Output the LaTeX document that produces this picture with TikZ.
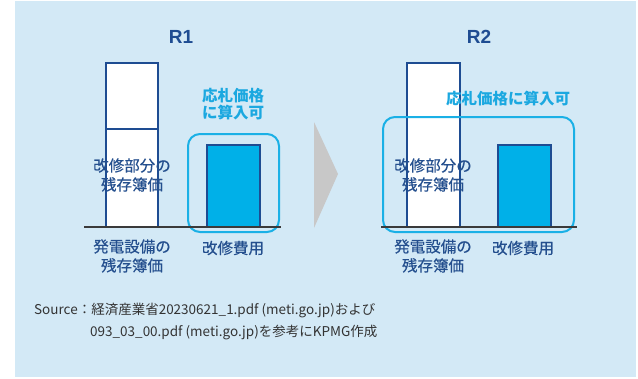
\documentclass[tikz,border=0pt]{standalone}
\usepackage{fontspec}
\setmainfont{Noto Sans CJK JP}
\newfontfamily\medfont[FakeBold=0.35]{Noto Sans CJK JP}
\newfontfamily\latinbold{Liberation Sans}
\definecolor{bg}{HTML}{D3E9F6}
\definecolor{navy}{HTML}{1E4C92}
\definecolor{txtblue}{HTML}{244F8E}
\definecolor{cyanbar}{HTML}{00B0E8}
\definecolor{cyanline}{HTML}{1AB0E6}
\definecolor{cyantext}{HTML}{1BA8E0}
\definecolor{arrowgray}{HTML}{C8C8C8}
\definecolor{basegray}{HTML}{3A3A3A}
\definecolor{srcgray}{HTML}{333333}
\tikzset{
  whitebar/.style={draw=navy, line width=1.1pt, fill=white},
  cyanbox/.style={draw=navy, line width=1.1pt, fill=cyanbar},
  groupbox/.style={draw=cyanline, line width=2pt, rounded corners=12pt},
  baseline/.style={draw=basegray, line width=1.2pt},
  rlabel/.style={font=\latinbold\bfseries\fontsize{19}{22}\selectfont, text=navy, inner sep=0pt},
  lbl/.style={font=\medfont\fontsize{15.5}{19}\selectfont, text=txtblue, align=center, inner sep=0pt},
  cyanlbl/.style={font=\bfseries\fontsize{15.5}{17.5}\selectfont, text=cyantext, align=center, inner sep=0pt},
  srclbl/.style={font=\fontsize{13.5}{15}\selectfont, text=srcgray, anchor=west, inner sep=0pt},
}
\begin{document}
\begin{tikzpicture}[x=1pt,y=-1pt]
\useasboundingbox (0,0) rectangle (638,378);
\fill[bg] (15,1) rectangle (636,377);
% R1
\node[rlabel] (r1) at (181,37) {R1};
\draw[whitebar] (106,63) rectangle (158,227);
\draw[navy, line width=1.1pt] (106,129) -- (158,129);
\draw[cyanbox] (207,145) rectangle (260,227);
\draw[groupbox] (188,134) rectangle (279,232);
\coordinate (b1l) at (84,227);
\coordinate (b1r) at (281,227);
\draw[baseline] (b1l) -- (b1r);
\node[cyanlbl] (c1) at (233,104) {応札価格\\に算入可};
\node[lbl] (k1) at (132,175) {改修部分の\\残存簿価};
\node[lbl] (h1) at (132,256) {発電設備の\\残存簿価};
\node[lbl] (f1) at (233,248) {改修費用};
% arrow
\fill[arrowgray] (314,122) -- (338,174) -- (314,228) -- cycle;
% R2
\node[rlabel] (r2) at (479,37) {R2};
\draw[whitebar] (407,63) rectangle (460,227);
\draw[cyanbox] (498,145) rectangle (551,227);
\draw[groupbox] (383,117) rectangle (574,232);
\coordinate (b2l) at (381,227);
\coordinate (b2r) at (577,227);
\draw[baseline] (b2l) -- (b2r);
\node[cyanlbl] (c2) at (508,99) {応札価格に算入可};
\node[lbl] (k2) at (433,175) {改修部分の\\残存簿価};
\node[lbl] (h2) at (433,256) {発電設備の\\残存簿価};
\node[lbl] (f2) at (523,248) {改修費用};
% source
\node[srclbl] (s1) at (34,311) {Source：経済産業省20230621\_1.pdf (meti.go.jp)および};
\node[srclbl] (s2) at (90,333) {093\_03\_00.pdf (meti.go.jp)を参考にKPMG作成};
\end{tikzpicture}
\end{document}
